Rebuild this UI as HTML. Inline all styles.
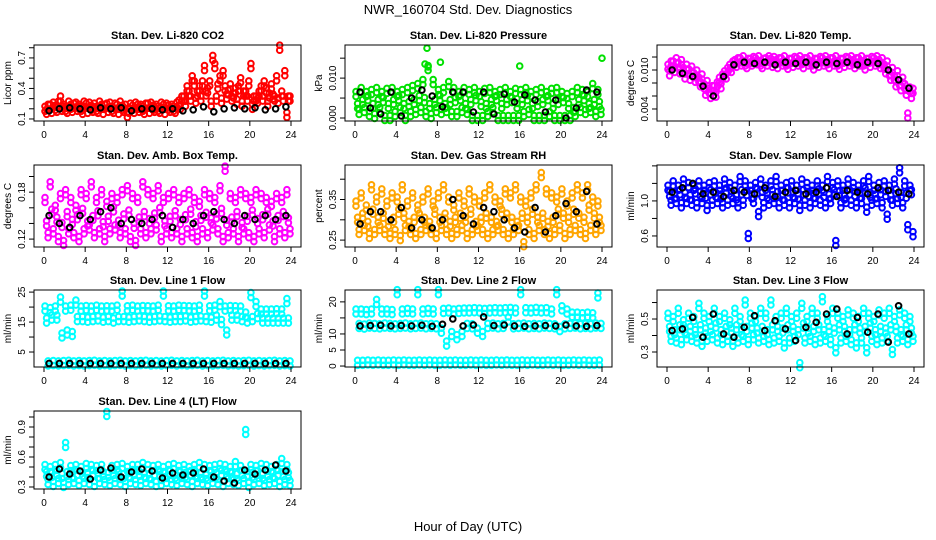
<!DOCTYPE html>
<html><head><meta charset="utf-8">
<style>
html,body{margin:0;padding:0;background:#fff;}
svg{display:block;font-family:"Liberation Sans",sans-serif;}
</style></head>
<body>
<svg id="chart" width="936" height="540" viewBox="0 0 936 540" xmlns="http://www.w3.org/2000/svg">
<text x="468" y="14" font-size="13" text-anchor="middle">NWR_160704  Std. Dev. Diagnostics</text>
<text x="468" y="531" font-size="13" text-anchor="middle">Hour of Day (UTC)</text>
</svg>
<script>
// ---- data ----
const hourTicks = [0,4,8,12,16,20,24];

const co2Red1 = [0.2,0.22,0.21,0.3,0.2,0.22,0.24,0.2,0.23,0.21,0.2,0.22,0.23,0.2,0.22,0.21,0.14,0.21,0.22,0.2,0.23,0.21,0.2,0.22,0.21,0.2,0.26,0.3,0.35,0.45,0.4,0.6,0.45,0.62,0.5,0.4,0.42,0.38,0.48,0.35,0.62,0.3,0.4,0.38,0.42,0.5,0.35,0.14];
const co2Red2 = [0.17,0.18,0.19,0.2,0.18,0.19,0.2,0.17,0.18,0.19,0.18,0.17,0.19,0.18,0.17,0.19,0.18,0.18,0.19,0.17,0.18,0.19,0.18,0.17,0.19,0.18,0.22,0.25,0.3,0.28,0.3,0.35,0.25,0.3,0.28,0.32,0.3,0.27,0.25,0.3,0.22,0.28,0.3,0.25,0.32,0.28,0.3,0.3];
const co2Red3 = [0.22,0.24,0.25,0.22,0.25,0.23,0.22,0.25,0.24,0.23,0.25,0.22,0.24,0.23,0.25,0.22,0.23,0.24,0.22,0.23,0.24,0.22,0.24,0.23,0.22,0.24,0.3,0.4,0.5,0.35,0.45,0.38,0.7,0.42,0.55,0.36,0.33,0.4,0.35,0.45,0.3,0.35,0.45,0.33,0.3,0.8,0.55,0.3];
const co2Black = [0.18,0.2,0.21,0.2,0.19,0.21,0.2,0.21,0.18,0.2,0.2,0.19,0.2,0.18,0.19,0.22,0.17,0.2,0.21,0.2,0.21,0.19,0.2,0.22];

const presG1 = [0.006,0.007,0.006,0.0065,0.007,0.006,0.0068,0.007,0.006,0.0065,0.007,0.0075,0.008,0.009,0.0125,0.009,0.0065,0.007,0.0085,0.007,0.006,0.007,0.0065,0.007,0.006,0.0068,0.007,0.006,0.0065,0.007,0.006,0.0068,0.0065,0.007,0.006,0.0065,0.007,0.006,0.0068,0.007,0.006,0.0055,0.006,0.007,0.0065,0.006,0.008,0.0065];
const presG2 = [0.003,0.004,0.005,0.003,0.004,0.0045,0.003,0.004,0.005,0.003,0.0035,0.004,0.005,0.0045,0.003,0.004,0.005,0.003,0.004,0.0045,0.005,0.003,0.004,0.005,0.0035,0.003,0.004,0.005,0.003,0.004,0.0045,0.003,0.004,0.005,0.003,0.0035,0.004,0.005,0.003,0.004,0.0045,0.003,0.002,0.004,0.005,0.003,0.004,0.0035];
const presG3 = [0.0015,0.002,0.001,0.0005,0.002,0,0,0.001,0.002,0,0.001,0.0015,0.002,0.001,0.0005,0.002,0.0015,0.002,0.001,0.001,0.002,0.0015,0,0,0,0.001,0.002,0,0,0,0,0,0.001,0.0015,0,0,0,0.001,0,0,0,0,0.001,0.002,0.0015,0.002,0.001,0.0015];
const presOutHours = [7,8.3,6.8,16,24,7.1];
const presOutVals = [0.0175,0.014,0.0135,0.013,0.015,0.0128];
const presBlack = [0.0065,0.0025,0.001,0.0065,0.0005,0.005,0.007,0.0055,0.0028,0.0065,0.0065,0.0015,0.0065,0.001,0.006,0.004,0.0058,0.0045,0.0015,0.0045,0.0,0.0025,0.007,0.0065];

const tempM1 = [0.0105,0.011,0.0108,0.01,0.0098,0.0092,0.0085,0.0075,0.0068,0.0072,0.0085,0.0095,0.0105,0.0112,0.0115,0.011,0.0114,0.0115,0.011,0.0115,0.0114,0.0112,0.0115,0.011,0.0114,0.0115,0.0112,0.0115,0.011,0.0114,0.0115,0.0112,0.0115,0.011,0.0114,0.0115,0.0112,0.0115,0.011,0.0114,0.0115,0.0112,0.0105,0.0095,0.0088,0.008,0.0075,0.007];
const tempM2 = [0.0095,0.01,0.0098,0.009,0.0088,0.0085,0.0078,0.0065,0.006,0.0062,0.0075,0.009,0.01,0.0108,0.011,0.0106,0.011,0.0112,0.0106,0.011,0.0108,0.0106,0.011,0.0105,0.0108,0.011,0.0106,0.011,0.0104,0.0108,0.011,0.0106,0.011,0.0105,0.0108,0.011,0.0106,0.011,0.0104,0.0108,0.011,0.0106,0.0098,0.0088,0.0078,0.0072,0.0065,0.006];
const tempM3 = [0.011,0.0115,0.0112,0.0105,0.0102,0.0096,0.009,0.008,0.0072,0.0078,0.009,0.01,0.011,0.0115,0.0118,0.0114,0.0117,0.0118,0.0114,0.0118,0.0117,0.0115,0.0118,0.0114,0.0117,0.0118,0.0115,0.0118,0.0114,0.0117,0.0118,0.0115,0.0118,0.0114,0.0117,0.0118,0.0115,0.0118,0.0114,0.0117,0.0118,0.0115,0.011,0.01,0.0095,0.0085,0.003,0.0068];
const tempBlack = [0.01,0.0095,0.009,0.0075,0.006,0.009,0.0108,0.0112,0.011,0.0112,0.0108,0.0112,0.011,0.0112,0.0108,0.0112,0.011,0.0112,0.0108,0.0112,0.011,0.01,0.0085,0.0072];

const ambM1 = [0.17,0.19,0.16,0.175,0.18,0.17,0.16,0.18,0.175,0.19,0.17,0.18,0.165,0.175,0.17,0.18,0.185,0.175,0.17,0.19,0.18,0.175,0.185,0.17,0.175,0.18,0.17,0.175,0.18,0.17,0.165,0.18,0.175,0.17,0.185,0.21,0.175,0.17,0.18,0.175,0.17,0.18,0.175,0.17,0.165,0.175,0.17,0.18];
const ambM2 = [0.14,0.155,0.145,0.138,0.152,0.142,0.148,0.156,0.14,0.147,0.153,0.139,0.146,0.158,0.141,0.149,0.154,0.137,0.145,0.152,0.143,0.15,0.157,0.14,0.146,0.153,0.142,0.148,0.155,0.139,0.147,0.151,0.144,0.149,0.156,0.141,0.145,0.152,0.138,0.146,0.154,0.143,0.148,0.155,0.14,0.147,0.152,0.144];
const ambM3 = [0.125,0.13,0.12,0.115,0.13,0.125,0.12,0.13,0.135,0.125,0.13,0.12,0.13,0.135,0.125,0.13,0.12,0.115,0.13,0.125,0.13,0.135,0.12,0.13,0.125,0.13,0.12,0.13,0.125,0.12,0.13,0.125,0.135,0.13,0.12,0.125,0.13,0.12,0.13,0.125,0.12,0.13,0.125,0.135,0.12,0.13,0.125,0.13];
const ambBlack = [0.15,0.14,0.135,0.15,0.145,0.155,0.16,0.14,0.145,0.14,0.145,0.15,0.135,0.145,0.14,0.15,0.155,0.145,0.14,0.15,0.145,0.15,0.145,0.15];

const rhO1 = [0.34,0.36,0.33,0.38,0.35,0.37,0.34,0.36,0.35,0.38,0.34,0.36,0.33,0.35,0.37,0.34,0.36,0.38,0.35,0.33,0.36,0.34,0.37,0.35,0.34,0.36,0.38,0.35,0.34,0.37,0.36,0.38,0.35,0.34,0.36,0.38,0.41,0.37,0.36,0.35,0.37,0.34,0.36,0.38,0.36,0.38,0.35,0.34];
const rhO2 = [0.3,0.31,0.29,0.32,0.3,0.31,0.29,0.3,0.32,0.31,0.29,0.3,0.31,0.3,0.29,0.32,0.3,0.31,0.29,0.3,0.31,0.3,0.32,0.29,0.3,0.31,0.3,0.29,0.32,0.31,0.3,0.29,0.31,0.3,0.32,0.3,0.31,0.29,0.3,0.32,0.31,0.3,0.32,0.31,0.3,0.33,0.31,0.3];
const rhO3 = [0.27,0.28,0.26,0.27,0.28,0.27,0.26,0.27,0.255,0.28,0.27,0.26,0.27,0.28,0.27,0.26,0.28,0.27,0.26,0.27,0.28,0.26,0.27,0.28,0.27,0.26,0.27,0.28,0.27,0.26,0.27,0.28,0.24,0.27,0.26,0.28,0.27,0.26,0.27,0.28,0.26,0.27,0.28,0.27,0.26,0.28,0.27,0.28];
const rhBlack = [0.29,0.32,0.32,0.3,0.33,0.28,0.3,0.28,0.3,0.35,0.31,0.29,0.33,0.32,0.3,0.28,0.27,0.33,0.27,0.31,0.34,0.32,0.37,0.29];

const flowB1 = [1.15,1.2,1.15,1.22,1.18,1.15,1.2,1.15,1.18,1.2,1.15,1.22,1.18,1.15,1.25,1.2,1.15,1.18,1.22,1.15,1.2,1.25,1.15,1.18,1.2,1.15,1.22,1.18,1.15,1.2,1.15,1.25,1.18,1.2,1.15,1.22,1.18,1.15,1.2,1.25,1.15,1.18,1.2,1.15,1.22,1.35,1.2,1.15];
const flowB2 = [1.08,1.05,1.1,1.07,1.04,1.11,1.08,1.06,1.1,1.07,1.05,1.12,1.08,1.04,1.1,1.09,1.05,1.11,1.07,1.06,1.1,1.08,1.04,1.12,1.07,1.05,1.1,1.08,1.06,1.11,1.07,1.05,1.1,1.09,1.04,1.1,1.08,1.06,1.12,1.07,1.05,1.1,1.08,1.04,1.11,1.07,1.06,1.1];
const flowB3 = [0.98,1.0,0.95,1.0,0.98,0.95,1.0,0.92,0.98,1.0,0.95,0.98,1.0,0.95,0.98,0.6,1.0,0.85,0.95,0.98,1.0,0.95,0.98,0.95,1.0,0.92,0.98,0.95,1.0,0.98,0.95,1.0,0.52,0.95,1.0,0.98,0.95,1.0,0.9,0.98,1.0,0.95,0.82,0.98,1.0,0.95,0.7,0.62];
const flowBlack = [1.1,1.15,1.2,1.08,1.1,1.05,1.12,1.1,1.08,1.15,1.05,1.1,1.12,1.08,1.1,1.15,1.05,1.12,1.1,1.08,1.15,1.12,1.1,1.08];

const l1C1 = [19.5,19,19.5,22.5,19.5,19.8,21.5,19.5,19.7,19.5,19.8,19.5,19.6,19.5,19.8,24.5,19.6,19.8,19.5,19.7,19.6,19.5,19.8,24.5,19.6,19.5,19.8,19.7,19.6,19.5,19.8,24.5,19.6,19.8,21,19.5,19.7,19.6,19.5,17.5,24,21,18.5,18.5,18.5,18.6,18.5,22];
const l1C2 = [15.5,16.5,16.5,10.5,11.5,11,16,16,15.8,16,16.2,15.8,16,15.5,16,16,15.8,16,16.2,16,15.8,16,16.2,16,15.8,16,16,16.2,15.8,16,16.2,16,15.8,16.5,15,11.5,16.5,16.5,16,15.5,16,17,15.5,15.5,15.5,15.5,15.5,15.5];
const l1C3 = [1.2,1.3,1.2,1.3,1.4,1.2,1.3,1.2,1.3,1.4,1.2,1.3,1.2,1.3,1.4,1.2,1.3,1.2,1.3,1.4,1.2,1.3,1.2,1.3,1.4,1.2,1.3,1.2,1.3,1.4,1.2,1.3,1.2,1.3,1.4,1.2,1.3,1.2,1.3,1.4,1.2,1.3,1.2,1.3,1.4,1.2,1.3,1.2];
const l1Black = [1.2,1.2,1.2,1.2,1.2,1.2,1.2,1.2,1.2,1.2,1.2,1.2,1.2,1.2,1.2,1.2,1.2,1.2,1.2,1.2,1.2,1.2,1.2,1.2];

const l2C1 = [17,17,16.8,17,20,17,17,16.8,23,17,17.2,17,23,17,17.2,17,23,17.2,17.3,17,17.2,17.3,17.3,17.4,17.3,17.2,17.3,17.4,17.3,17.4,17.5,17.3,23,17.4,17.3,17.5,17.3,17.4,17,23,18,17,16,16,15.8,16,15.8,22];
const l2C2 = [1,1,1.1,1,1.1,1,1,1.1,1,1.1,1,1,1.1,1,1.1,1,1,1.1,1,1.1,1,1,1.1,1,1.1,1,1,1.1,1,1.1,1,1,1.1,1,1.1,1,1,1.1,1,1.1,1,1,1.1,1,1.1,1,1,1.1];
const l2C3 = [12.5,12.3,12.6,12.5,12.4,12.6,12.5,12.4,12.5,12.6,12.4,12.5,12.6,12.4,12.5,12.4,11,7,10,9,10,12.5,12.4,11,10,12.5,12.6,12.4,12.5,14.5,12.4,12.5,12.6,12.4,12.5,12.4,12.6,12.5,12.4,11.5,12.4,12.5,12.6,12.4,12.5,12.4,12.6,12.5];
const l2Black = [12.5,12.6,12.7,12.5,12.6,12.5,12.7,12.4,13,14.7,12.5,12.8,15.3,12.6,12.8,12.5,12.4,12.5,12.6,12.5,12.8,12.5,12.4,12.6];

const l3C1 = [0.52,0.5,0.55,0.48,0.52,0.5,0.58,0.52,0.5,0.55,0.5,0.52,0.48,0.55,0.5,0.6,0.52,0.5,0.55,0.52,0.6,0.5,0.52,0.55,0.5,0.52,0.58,0.5,0.55,0.52,0.62,0.5,0.55,0.52,0.5,0.54,0.52,0.5,0.55,0.52,0.5,0.54,0.52,0.55,0.5,0.54,0.52,0.5];
const l3C2 = [0.44,0.42,0.45,0.43,0.44,0.42,0.45,0.43,0.44,0.46,0.42,0.44,0.43,0.45,0.42,0.44,0.46,0.43,0.44,0.42,0.45,0.44,0.43,0.45,0.44,0.42,0.46,0.43,0.44,0.45,0.42,0.44,0.43,0.45,0.44,0.42,0.45,0.43,0.44,0.46,0.42,0.44,0.43,0.45,0.44,0.42,0.45,0.43];
const l3C3 = [0.38,0.37,0.36,0.39,0.38,0.37,0.35,0.38,0.39,0.37,0.36,0.38,0.35,0.37,0.38,0.36,0.39,0.37,0.38,0.36,0.37,0.38,0.34,0.37,0.38,0.22,0.37,0.38,0.36,0.37,0.38,0.36,0.31,0.37,0.38,0.36,0.34,0.37,0.31,0.38,0.36,0.37,0.38,0.3,0.37,0.38,0.36,0.38];
const l3Black = [0.43,0.44,0.51,0.39,0.53,0.41,0.39,0.45,0.52,0.43,0.49,0.44,0.37,0.45,0.48,0.53,0.56,0.41,0.51,0.42,0.53,0.36,0.58,0.41];

const l4C1 = [0.5,0.48,0.5,0.52,0.72,0.49,0.5,0.48,0.51,0.5,0.49,0.5,1.03,0.49,0.5,0.51,0.48,0.5,0.5,0.52,0.5,0.49,0.5,0.48,0.5,0.51,0.49,0.5,0.48,0.5,0.52,0.5,0.49,0.5,0.51,0.5,0.48,0.53,0.49,0.85,0.5,0.49,0.51,0.5,0.48,0.5,0.56,0.5];
const l4C2 = [0.43,0.42,0.44,0.41,0.43,0.42,0.44,0.43,0.42,0.44,0.41,0.43,0.42,0.44,0.43,0.41,0.42,0.44,0.43,0.42,0.41,0.44,0.43,0.42,0.44,0.41,0.43,0.42,0.44,0.43,0.42,0.41,0.43,0.42,0.44,0.43,0.42,0.41,0.44,0.43,0.42,0.44,0.41,0.43,0.42,0.44,0.43,0.42];
const l4C3 = [0.35,0.33,0.36,0.32,0.35,0.36,0.34,0.36,0.35,0.33,0.36,0.35,0.34,0.36,0.35,0.33,0.36,0.35,0.34,0.36,0.35,0.33,0.34,0.36,0.35,0.34,0.36,0.35,0.33,0.36,0.35,0.34,0.36,0.35,0.33,0.36,0.35,0.34,0.36,0.32,0.35,0.36,0.34,0.35,0.36,0.33,0.35,0.34];
const l4Black = [0.4,0.48,0.43,0.46,0.38,0.47,0.49,0.4,0.45,0.48,0.46,0.39,0.44,0.42,0.44,0.48,0.4,0.36,0.34,0.47,0.43,0.47,0.52,0.46];

// ---- panels ----
const colLeft = [34,345,657];
const rowBox = [[45,121],[165,247],[290,367],[411,489]];
const PW = 267;
const panels = [
 {name:'co2',title:'Stan. Dev. Li-820 CO2',ylab:'Licor ppm',c:0,r:0,ymin:0.08,ymax:0.827,ticks:[0.1,0.2,0.3,0.4,0.5,0.6,0.7,0.8],labels:['0.1','0.4','0.7'],
  series:[[co2Red1,'#ff0000',0.2],[co2Red2,'#ff0000',0.5],[co2Red3,'#ff0000',0.8],[co2Black,'#000',0.5]]},
 {name:'pressure',title:'Stan. Dev. Li-820 Pressure',ylab:'kPa',c:1,r:0,ymin:-0.00075,ymax:0.0183,ticks:[0,0.005,0.01,0.015],labels:['0.000','0.010'],
  series:[[presG1,'#00e000',0.2],[presG2,'#00e000',0.5],[presG3,'#00e000',0.8],[presBlack,'#000',0.5]],extra:[presOutHours,presOutVals,'#00e000']},
 {name:'temperature',title:'Stan. Dev. Li-820 Temp.',ylab:'degrees C',c:2,r:0,ymin:0.00215,ymax:0.01385,ticks:[0.004,0.006,0.008,0.010,0.012],labels:['0.004','0.010'],
  series:[[tempM1,'#ff00ff',0.2],[tempM2,'#ff00ff',0.5],[tempM3,'#ff00ff',0.8],[tempBlack,'#000',0.5]]},
 {name:'amb-box-temp',title:'Stan. Dev. Amb. Box Temp.',ylab:'degrees C',c:0,r:1,ymin:0.1099,ymax:0.2147,ticks:[0.12,0.14,0.16,0.18,0.2],labels:['0.12','0.18'],
  series:[[ambM1,'#ff00ff',0.2],[ambM2,'#ff00ff',0.5],[ambM3,'#ff00ff',0.8],[ambBlack,'#000',0.5]]},
 {name:'gas-stream-rh',title:'Stan. Dev. Gas Stream RH',ylab:'percent',c:1,r:1,ymin:0.233,ymax:0.435,ticks:[0.25,0.3,0.35,0.4],labels:['0.25','0.35'],
  series:[[rhO1,'#ffa500',0.2],[rhO2,'#ffa500',0.5],[rhO3,'#ffa500',0.8],[rhBlack,'#000',0.5]]},
 {name:'sample-flow',title:'Stan. Dev. Sample Flow',ylab:'ml/min',c:2,r:1,ymin:0.474,ymax:1.41,ticks:[0.6,0.8,1.0,1.2,1.4],labels:['0.6','1.0'],
  series:[[flowB1,'#0000ff',0.2],[flowB2,'#0000ff',0.5],[flowB3,'#0000ff',0.8],[flowBlack,'#000',0.5]]},
 {name:'line1-flow',title:'Stan. Dev. Line 1 Flow',ylab:'ml/min',c:0,r:2,ymin:0,ymax:25.7,ticks:[5,10,15,20,25],labels:['5','15','25'],
  series:[[l1C1,'#00ffff',0.2],[l1C2,'#00ffff',0.5],[l1C3,'#00ffff',0.8],[l1Black,'#000',0.5]]},
 {name:'line2-flow',title:'Stan. Dev. Line 2 Flow',ylab:'ml/min',c:1,r:2,ymin:-0.3,ymax:23.7,ticks:[0,5,10,15,20],labels:['0','5','10','20'],
  series:[[l2C1,'#00ffff',0.2],[l2C2,'#00ffff',0.5],[l2C3,'#00ffff',0.8],[l2Black,'#000',0.5]]},
 {name:'line3-flow',title:'Stan. Dev. Line 3 Flow',ylab:'ml/min',c:2,r:2,ymin:0.209,ymax:0.676,ticks:[0.3,0.4,0.5,0.6],labels:['0.3','0.5'],
  series:[[l3C1,'#00ffff',0.2],[l3C2,'#00ffff',0.5],[l3C3,'#00ffff',0.8],[l3Black,'#000',0.5]]},
 {name:'line4-flow',title:'Stan. Dev. Line 4 (LT) Flow',ylab:'ml/min',c:0,r:3,ymin:0.28,ymax:1.06,ticks:[0.3,0.4,0.5,0.6,0.7,0.8,0.9,1.0],labels:['0.3','0.6','0.9'],
  series:[[l4C1,'#00ffff',0.2],[l4C2,'#00ffff',0.5],[l4C3,'#00ffff',0.8],[l4Black,'#000',0.5]]}
];

const NS='http://www.w3.org/2000/svg';
const svg=document.getElementById('chart');
function mk(tag,attrs,parent){const e=document.createElementNS(NS,tag);for(const k in attrs)e.setAttribute(k,attrs[k]);parent.appendChild(e);return e;}
// plotting-symbol thickening (style only)
const clusterDY=[-2.5,2.5];

panels.forEach(p=>{
  const L=colLeft[p.c], R=L+PW, T=rowBox[p.r][0], B=rowBox[p.r][1];
  const xs=h=>L+10+h*(PW-20)/24;
  const ys=v=>B-(v-p.ymin)/(p.ymax-p.ymin)*(B-T);
  const g=mk('g',{},svg);
  
  
  const title=mk('text',{x:(L+R)/2,y:T-6,'font-size':11,'font-weight':'bold','text-anchor':'middle'},g);
  title.textContent=p.title;
  
  
  const pts=mk('g',{fill:'none','stroke-width':2},g);
  
  
  const draw=(h,v,col,dense)=>{
    const offs=dense?clusterDY:[0];
    offs.forEach(dy=>{
      const c=mk('circle',{cx:xs(h).toFixed(1),cy:(ys(v)+dy).toFixed(1),r:2.8,stroke:col},pts);
      
      
    });};
  p.series.forEach(([vals,col,off])=>{const dense=col!=='#000';vals.forEach((v,i)=>draw((i+off)*24/vals.length,v,col,dense));});
  if(p.extra){const [hs,vs,col]=p.extra;hs.forEach((h,i)=>draw(h,vs[i],col,false));}
  const box=mk('rect',{x:L,y:T,width:PW,height:B-T,fill:'none',stroke:'#000','stroke-width':1},g);
  
  
  const xa=mk('g',{},g);
  
  
  hourTicks.forEach(h=>{mk('line',{x1:xs(h),x2:xs(h),y1:B,y2:B+5,stroke:'#000'},xa);
    const t=mk('text',{x:xs(h),y:B+17,'font-size':10,'text-anchor':'middle'},xa);t.textContent=h;});
  const ya=mk('g',{},g);
  
  
  p.ticks.forEach(v=>{mk('line',{x1:L,x2:L-5,y1:ys(v),y2:ys(v),stroke:'#000'},ya);});
  p.labels.forEach(s=>{const v=parseFloat(s);const y=ys(v);
    const t=mk('text',{x:L-9,y:y,'font-size':10,'text-anchor':'middle',transform:`rotate(-90 ${L-9} ${y})`},ya);t.textContent=s;});
  const yl=mk('text',{x:L-23,y:(T+B)/2,'font-size':10,'text-anchor':'middle',transform:`rotate(-90 ${L-23} ${(T+B)/2})`},g);
  yl.textContent=p.ylab;
  
  
});
</script>
</body></html>
